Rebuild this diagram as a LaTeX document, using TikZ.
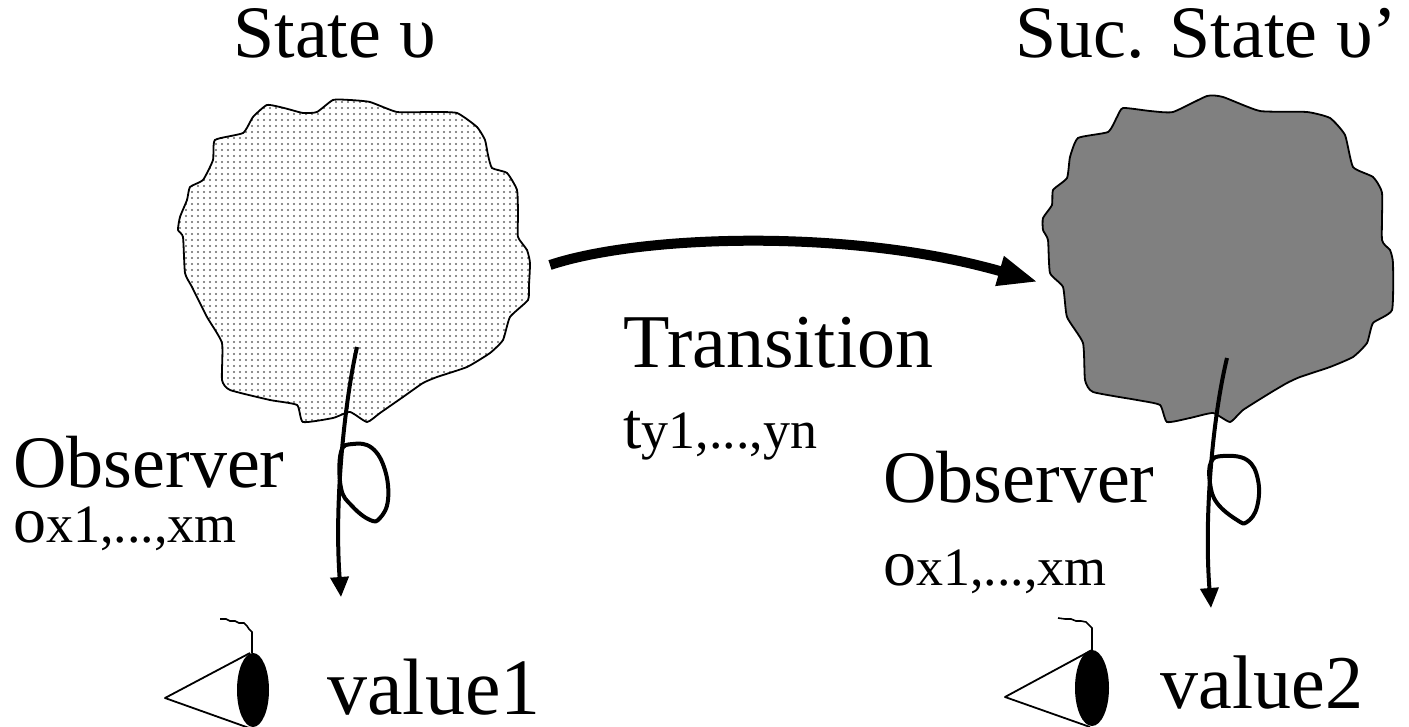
\documentclass[tikz,border=0pt]{standalone}
\usepackage{fontspec}
\setmainfont{Liberation Serif}
\usetikzlibrary{arrows.meta}
\begin{document}
\begin{tikzpicture}[x=0.5pt,y=-0.5pt,
  cloudline/.style={draw=black,line width=0.9pt},
  cloudB/.style={draw=black,line width=0.9pt,fill=black!50},
  dotfill/.style={fill=black!60},
  trans/.style={line width=5pt,-{Triangle[length=20pt,width=14pt]}},
  obs/.style={line width=2pt,-{Triangle[length=10pt,width=9pt]}},
  loopline/.style={line width=2pt},
  eyecone/.style={draw,line width=0.9pt,fill=white,line join=round},
  eyeball/.style={fill=black},
  wire/.style={line width=0.8pt},
  lbl/.style={anchor=base west,inner sep=0pt,font=\fontsize{37}{40}\selectfont},
]
\useasboundingbox (0,0) rectangle (1409,727);

% cloud 1 (state)
\def\cloudone{plot[smooth cycle,tension=0.3] coordinates {(267,105) (284,108) (303,113) (317,112) (333,100) (350,100) (370,102) (397,112) (430,112) (457,113) (477,127) (485,140) (488,155) (492,168) (507,173) (517,190) (518,215) (518,237) (527,250) (530,263) (529,285) (528,300) (510,317) (503,340) (490,353) (467,367) (437,377) (423,383) (403,397) (380,413) (367,422) (350,412) (333,418) (303,422) (297,405) (270,400) (230,390) (222,380) (222,343) (207,317) (192,287) (185,273) (183,237) (178,230) (180,217) (187,200) (190,187) (203,180) (213,160) (215,140) (243,133) (253,117)}}
\begin{scope}
  \clip \cloudone;
  \foreach \i in {0,...,59} {
    \foreach \j in {0,...,55} {
      \fill[dotfill] (180+6*\i,102+6*\j) circle (0.55pt);
    }
  }
\end{scope}
\draw[cloudline] \cloudone;

% cloud 2 (successor state)
\draw[cloudB] plot[smooth cycle,tension=0.3] coordinates {(1123,108) (1150,111) (1173,112) (1207,96) (1223,97) (1260,111) (1307,112) (1330,118) (1345,135) (1353,167) (1373,177) (1382,193) (1382,240) (1390,250) (1393,263) (1392,310) (1373,323) (1367,343) (1353,357) (1330,367) (1300,377) (1287,383) (1270,393) (1243,410) (1230,422) (1213,413) (1190,418) (1167,422) (1160,405) (1137,400) (1093,392) (1085,380) (1083,343) (1067,317) (1063,287) (1050,273) (1048,240) (1043,230) (1043,218) (1052,205) (1053,190) (1067,178) (1070,157) (1078,138) (1108,132) (1117,117)};

% transition arrow
\coordinate (ts) at (550,265);
\coordinate (te) at (1038,282);
\draw[trans] (ts) .. controls (640,235) and (850,228) .. (te);

% observer 1
\coordinate (o1s) at (357,347);
\coordinate (o1e) at (341,597);
\draw[obs] (o1s) .. controls (345,400) and (334,500) .. (o1e);
\draw[loopline] plot[smooth cycle,tension=0.7] coordinates {(341,452) (353,444) (372,448) (385,470) (388,500) (380,518) (370,520) (352,506) (341,488)};

% observer 2
\coordinate (o2s) at (1227,358);
\coordinate (o2e) at (1211,608);
\draw[obs] (o2s) .. controls (1212,420) and (1204,520) .. (o2e);
\draw[loopline] plot[smooth cycle,tension=0.7] coordinates {(1211,462) (1223,456) (1247,460) (1258,480) (1257,507) (1247,522) (1237,520) (1217,503) (1210,483)};

% eye 1
\draw[eyecone] (250,653) -- (165,698) -- (252,729);
\fill[eyeball] (253,690) ellipse [x radius=16, y radius=37];
\draw[wire] (252,653) -- (252,632) -- (249,629) -- (247,626) -- (244,623) -- (239,623) -- (235,621) -- (230,621) -- (226,619) -- (220,619);

% eye 2
\draw[eyecone] (1092,650) -- (1005,697) -- (1090,727);
\fill[eyeball] (1092,688) ellipse [x radius=17, y radius=38];
\draw[wire] (1092,650) -- (1092,628) -- (1089,625) -- (1086,622) -- (1081,621) -- (1076,621) -- (1071,619) -- (1065,619) -- (1058,618);

% labels
\node[lbl] (st1) at (233,58) {State υ};
\node[lbl] (st2) at (1015,58) {Suc. State υ’};
\node[lbl,font=\fontsize{38}{42}\selectfont] (tr) at (623,367) {Transition};
\node[lbl] (trs) at (623,448) {{\fontsize{33}{36}\selectfont t}{\fontsize{27}{30}\selectfont y1,...,yn}};
\node[lbl] (ob1) at (13,487) {Observer};
\node[lbl] (obs1) at (13,542) {{\fontsize{33}{36}\selectfont o}{\fontsize{27}{30}\selectfont x1,...,xm}};
\node[lbl] (ob2) at (883,502) {Observer};
\node[lbl] (obs2) at (883,585) {{\fontsize{33}{36}\selectfont o}{\fontsize{27}{30}\selectfont x1,...,xm}};
\node[lbl,font=\fontsize{40}{44}\selectfont] (v1) at (327,714) {value1};
\node[lbl,font=\fontsize{38}{42}\selectfont] (v2) at (1160,708) {value2};
\end{tikzpicture}
\end{document}
